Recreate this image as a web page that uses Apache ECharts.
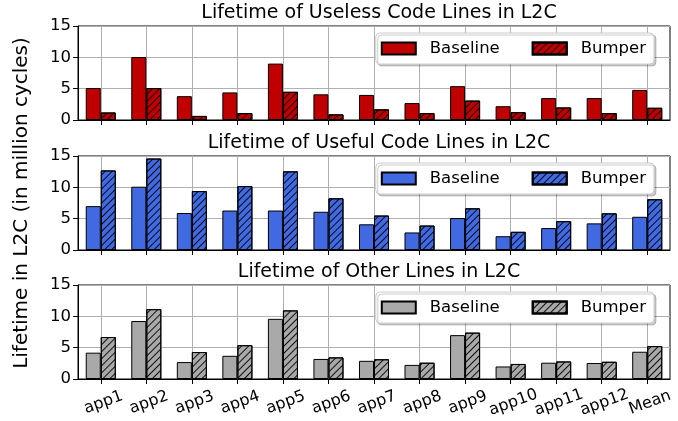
<!DOCTYPE html>
<html>
<head>
<meta charset="utf-8">
<script src="https://cdn.jsdelivr.net/npm/echarts@6/dist/echarts.min.js"></script>
<style>
  html, body { margin: 0; padding: 0; background: #fff; }
  #chart { width: 678px; height: 421px; }
</style>
</head>
<body>
<div id="chart"></div>
<script>
const apps = ['app1', 'app2', 'app3', 'app4', 'app5', 'app6', 'app7', 'app8', 'app9', 'app10', 'app11', 'app12', 'Mean'];

const uselessBaseline = [5.1, 10.05, 3.8, 4.4, 9.0, 4.1, 4.0, 2.7, 5.4, 2.2, 3.5, 3.5, 4.8];
const uselessBumper = [1.2, 5.1, 0.65, 1.1, 4.5, 0.9, 1.7, 1.1, 3.1, 1.25, 2.0, 1.1, 1.95];

const usefulBaseline = [7.0, 10.1, 5.9, 6.3, 6.3, 6.1, 4.1, 2.8, 5.1, 2.2, 3.5, 4.25, 5.3];
const usefulBumper = [12.7, 14.6, 9.4, 10.2, 12.55, 8.25, 5.5, 3.9, 6.65, 2.9, 4.6, 5.85, 8.1];

const otherBaseline = [4.2, 9.25, 2.7, 3.7, 9.6, 3.2, 2.9, 2.25, 7.0, 2.0, 2.6, 2.55, 4.35];
const otherBumper = [6.7, 11.15, 4.3, 5.4, 10.95, 3.45, 3.15, 2.6, 7.4, 2.4, 2.8, 2.75, 5.25];

const yTicks = [0, 5, 10, 15];

const panels = [
  { title: 'Lifetime of Useless Code Lines in L2C', color: '#c00000', base: uselessBaseline, bump: uselessBumper, top: 26 },
  { title: 'Lifetime of Useful Code Lines in L2C', color: '#4169e1', base: usefulBaseline, bump: usefulBumper, top: 156 },
  { title: 'Lifetime of Other Lines in L2C', color: '#a9a9a9', base: otherBaseline, bump: otherBumper, top: 285 }
];

const font = 'DejaVu Sans';
const plotH = 94;
// "///" hatch for the Bumper bars
const hatch = {
  symbol: 'rect',
  symbolSize: 1,
  color: 'rgba(0,0,0,0.9)',
  dashArrayX: [1, 0],
  dashArrayY: [1, 4],
  rotation: -Math.PI / 4
};

const grid = [], xAxis = [], yAxis = [], series = [], legend = [], title = [];

panels.forEach((p, i) => {
  grid.push({
    left: 78, right: 8, top: p.top, height: plotH,
    show: true, borderColor: '#000', borderWidth: 1, backgroundColor: 'transparent'
  });
  title.push({
    text: p.title,
    left: 374,
    textAlign: 'center',
    top: p.top - 27,
    textStyle: { fontFamily: font, fontSize: 19, fontWeight: 'normal', color: '#000' }
  });
  xAxis.push({
    type: 'category',
    gridIndex: i,
    data: apps,
    axisLine: { show: true, lineStyle: { color: '#000', width: 1 } },
    axisTick: { show: true, alignWithLabel: true, length: 5, lineStyle: { color: '#000' } },
    splitLine: { show: true, alignWithLabel: true, lineStyle: { color: '#b0b0b0', width: 1 } },
    axisLabel: i === 2
      ? { show: true, interval: 0, rotate: 20, align: 'center', verticalAlign: 'top', fontFamily: font, fontSize: 16, color: '#000', margin: 16 }
      : { show: false }
  });
  yAxis.push({
    type: 'value',
    gridIndex: i,
    min: yTicks[0],
    max: yTicks[yTicks.length - 1],
    interval: 5,
    axisLine: { show: true, lineStyle: { color: '#000' } },
    axisTick: { show: true, length: 5, lineStyle: { color: '#000' } },
    splitLine: { show: true, lineStyle: { color: '#b0b0b0', width: 1 } },
    axisLabel: { fontFamily: font, fontSize: 16.5, color: '#000', margin: 7 },
    name: i === 1 ? 'Lifetime in L2C (in million cycles)' : '',
    nameLocation: 'middle',
    nameGap: 46,
    nameTextStyle: { fontFamily: font, fontSize: 20, color: '#000' }
  });
  series.push({
    name: 'Baseline|' + i,
    type: 'bar',
    xAxisIndex: i,
    yAxisIndex: i,
    data: p.base,
    barGap: '0%',
    barCategoryGap: '34%',
    itemStyle: { color: p.color, borderColor: '#000', borderWidth: 1 }
  });
  series.push({
    name: 'Bumper|' + i,
    type: 'bar',
    xAxisIndex: i,
    yAxisIndex: i,
    data: p.bump,
    barGap: '0%',
    barCategoryGap: '34%',
    itemStyle: { color: p.color, borderColor: '#000', borderWidth: 1, decal: hatch }
  });
  legend.push({
    data: ['Baseline|' + i, 'Bumper|' + i],
    formatter: (name) => name.split('|')[0],
    right: 24,
    top: p.top + 7,
    orient: 'horizontal',
    icon: 'rect',
    itemWidth: 34,
    itemHeight: 12,
    itemGap: 32,
    padding: [7, 8, 7, 5],
    backgroundColor: '#fff',
    borderColor: '#cccccc',
    borderWidth: 1,
    borderRadius: 4,
    shadowColor: 'rgba(0,0,0,0.2)',
    shadowOffsetX: 2,
    shadowOffsetY: 2,
    shadowBlur: 0,
    selectedMode: false,
    textStyle: { fontFamily: font, fontSize: 16.5, color: '#000', padding: [0, 0, 0, 9] }
  });
});

const myChart = echarts.init(document.getElementById('chart'), null, { renderer: 'canvas' });
myChart.setOption({
  animation: false,
  backgroundColor: '#fff',
  title,
  grid,
  xAxis,
  yAxis,
  legend,
  series
});
</script>
</body>
</html>
